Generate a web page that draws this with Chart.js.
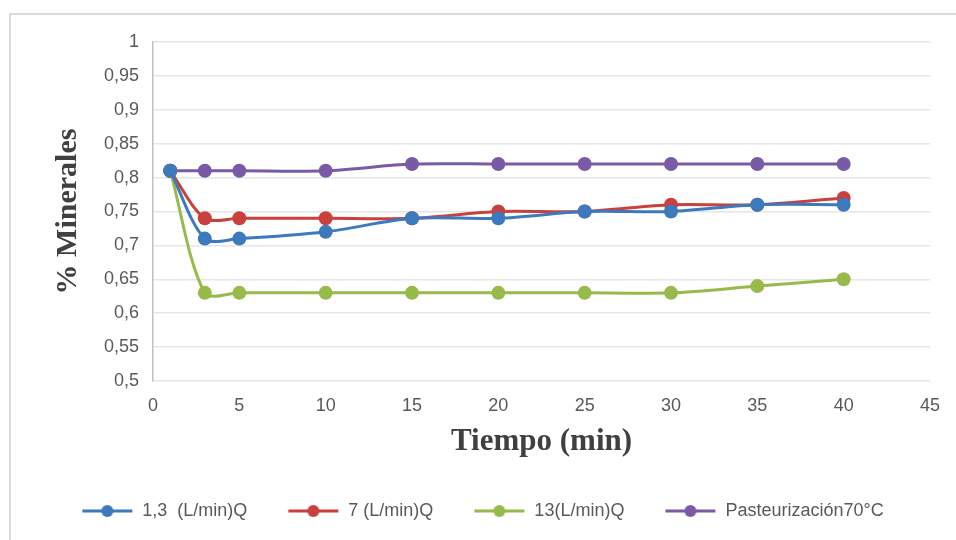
<!DOCTYPE html>
<html>
<head>
<meta charset="utf-8">
<script src="https://cdn.jsdelivr.net/npm/chart.js@4/dist/chart.umd.min.js"></script>
<style>
  html, body { margin: 0; padding: 0; background: #fff; }
  #frame { position: absolute; left: 9px; top: 13px; width: 960px; height: 540px; border: 2px solid #d9d9d9; box-sizing: border-box; }
  #wrap { position: absolute; left: 0; top: 0; width: 956px; height: 540px; }
</style>
</head>
<body>
<div id="frame"></div>
<div id="wrap"><canvas id="chart" width="956" height="540"></canvas></div>
<script>
// Tiempo (min) sampled for every series
const tiempos = [1, 3, 5, 10, 15, 20, 25, 30, 35, 40];

const serieNombres = ['1,3  (L/min)Q', '7 (L/min)Q', '13(L/min)Q', 'Pasteurización70°C'];
const caudal13 = [0.81, 0.71, 0.71, 0.72, 0.74, 0.74, 0.75, 0.75, 0.76, 0.76];
const caudal7 = [0.81, 0.74, 0.74, 0.74, 0.74, 0.75, 0.75, 0.76, 0.76, 0.77];
const caudal130 = [0.81, 0.63, 0.63, 0.63, 0.63, 0.63, 0.63, 0.63, 0.64, 0.65];
const pasteurizacion = [0.81, 0.81, 0.81, 0.81, 0.82, 0.82, 0.82, 0.82, 0.82, 0.82];

const colores = ['#3d79bd', '#c9413d', '#96bb4a', '#7a5aa6'];

function puntos(valores) {
    return valores.map((v, i) => ({x: tiempos[i], y: v}));
}

// little "line with dot" swatch for the legend
function muestra(color) {
    const c = document.createElement('canvas');
    c.width = 52; c.height = 14;
    const ctx = c.getContext('2d');
    ctx.strokeStyle = color;
    ctx.lineWidth = 3;
    ctx.beginPath();
    ctx.moveTo(1, 7); ctx.lineTo(51, 7);
    ctx.stroke();
    ctx.fillStyle = color;
    ctx.beginPath();
    ctx.arc(26, 7, 6, 0, Math.PI * 2);
    ctx.fill();
    return c;
}

const series = [caudal13, caudal7, caudal130, pasteurizacion];

const datasets = series.map((vals, i) => ({
    label: serieNombres[i],
    data: puntos(vals),
    borderColor: colores[i],
    backgroundColor: colores[i],
    borderWidth: 3,
    pointRadius: 7,
    pointHoverRadius: 7,
    pointBorderWidth: 0,
    tension: 0.3
}));

const fmt = v => String(Math.round(v * 100) / 100).replace('.', ',');
const sans = 'Liberation Sans Narrow, Liberation Sans, sans-serif';

new Chart(document.getElementById('chart'), {
    type: 'line',
    data: {datasets: datasets},
    options: {
        responsive: false,
        animation: false,
        layout: {padding: {left: 35, top: 42, right: 26, bottom: 10}},
        plugins: {
            tooltip: {enabled: false},
            legend: {
                position: 'bottom',
                labels: {
                    usePointStyle: true,
                    pointStyleWidth: 52,
                    color: '#595959',
                    font: {family: sans, size: 18},
                    padding: 40,
                    generateLabels: chart => chart.data.datasets.map((ds, i) => ({
                        text: ds.label,
                        pointStyle: muestra(colores[i]),
                        datasetIndex: i,
                        hidden: false,
                        fontColor: '#595959',
                        lineWidth: 0
                    }))
                }
            }
        },
        scales: {
            x: {
                type: 'linear',
                min: 0,
                max: 45,
                ticks: {stepSize: 5, color: '#595959', font: {family: sans, size: 18}, padding: 14},
                grid: {display: false, drawTicks: false},
                border: {display: false},
                title: {display: true, text: 'Tiempo (min)', color: '#404040', font: {family: 'Liberation Serif, serif', size: 31, weight: 'bold'}, padding: {top: 2, bottom: 1}},
                afterFit: s => { s.height = 81; }
            },
            y: {
                min: 0.5,
                max: 1,
                ticks: {stepSize: 0.05, color: '#595959', font: {family: sans, size: 18}, padding: 14, callback: v => fmt(v)},
                grid: {color: '#e6e6e6', lineWidth: 1.5, drawTicks: false},
                border: {display: true, color: '#bfbfbf', width: 1.5},
                title: {display: true, text: '% Minerales', color: '#404040', font: {family: 'Liberation Serif, serif', size: 30, weight: 'bold'}, padding: {top: 15, bottom: 4}},
                afterFit: s => { s.width = 118; }
            }
        }
    }
});
</script>
</body>
</html>
